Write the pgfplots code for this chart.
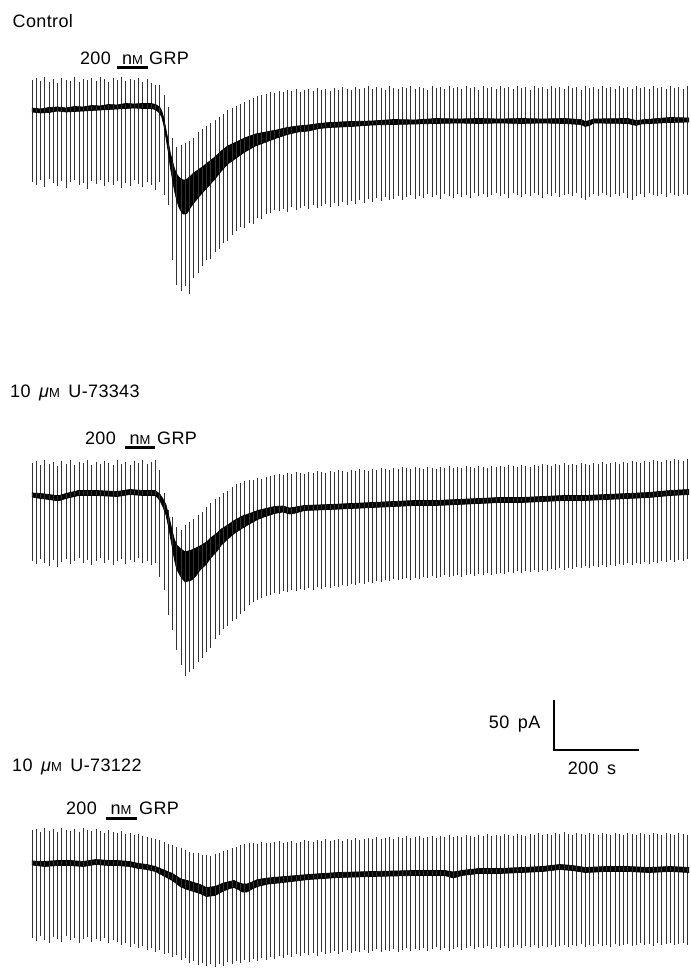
\documentclass[border=0pt]{standalone}
\usepackage{pgfplots}
\pgfplotsset{compat=1.18}
\usepackage{pgfplotstable}
\usepgfplotslibrary{fillbetween}
\usepackage{fontspec}
\setmainfont{Liberation Sans}[LetterSpace=2, WordSpace=1.6]
\newcommand\lab{\fontsize{18}{20}\selectfont}
\newcommand\smc{\fontsize{13}{13}\selectfont}

% spikes: t (s), top, bot (pA, relative to initial holding current)
\pgfplotstableread{
t top bot
0 30 -72
10 32 -75
20 29 -70
30 33 -77
40 28 -69
50 31 -73
60 27 -76
70 32 -71
80 30 -78
90 29 -72
100 33 -70
110 28 -75
120 31 -73
130 30 -79
140 32 -71
150 29 -74
160 33 -70
170 31 -76
180 28 -72
190 32 -75
200 30 -71
210 33 -78
220 29 -73
230 31 -76
240 30 -70
250 32 -74
260 28 -77
270 31 -72
280 27 -75
290 25 -80
300 25 -72
310 15 -85
320 3 -95
330 -28 -150
340 -37 -175
350 -35 -181
360 -33 -176
370 -31 -184
380 -28 -168
390 -22 -163
400 -19 -156
410 -16 -150
420 -13 -149
430 -10 -142
440 -7 -139
450 -4 -133
460 0 -131
470 2 -125
480 4 -121
490 6 -117
500 8 -118
510 10 -113
520 12 -114
530 14 -108
540 15 -109
550 16 -104
560 18 -103
570 17 -100
580 19 -101
590 18 -99
600 20 -102
610 19 -97
620 21 -100
630 18 -98
640 20 -96
650 21 -99
660 19 -95
670 22 -98
680 20 -96
690 21 -94
700 19 -97
710 22 -93
720 20 -96
730 23 -92
740 21 -95
750 20 -91
760 23 -94
770 21 -90
780 22 -93
790 24 -89
800 21 -92
810 23 -88
820 22 -91
830 20 -87
840 24 -90
850 22 -89
860 21 -86
870 23 -90
880 22 -87
890 24 -85
900 21 -89
910 23 -86
920 22 -88
930 20 -84
940 24 -87
950 22 -85
960 23 -89
970 21 -84
980 24 -86
990 22 -88
1000 23 -84
1010 21 -87
1020 24 -85
1030 22 -88
1040 23 -83
1050 20 -86
1060 24 -84
1070 22 -87
1080 23 -85
1090 21 -83
1100 24 -86
1110 22 -84
1120 23 -88
1130 21 -83
1140 24 -85
1150 22 -87
1160 23 -84
1170 20 -86
1180 24 -83
1190 22 -85
1200 23 -88
1210 21 -84
1220 24 -86
1230 22 -83
1240 23 -87
1250 21 -85
1260 24 -84
1270 22 -86
1280 23 -83
1290 20 -88
1300 24 -90
1310 22 -87
1320 23 -84
1330 21 -86
1340 24 -83
1350 22 -85
1360 23 -87
1370 21 -84
1380 24 -86
1390 22 -83
1400 23 -88
1410 21 -90
1420 24 -86
1430 22 -84
1440 23 -87
1450 21 -83
1460 24 -85
1470 22 -86
1480 23 -84
1490 21 -87
1500 24 -83
1510 22 -85
1520 23 -86
1530 21 -84
1540 24 -85
}\spikesA

\pgfplotstableread{
t c h
0 0 2
20 -1 2
40 0 2.5
60 1 2
80 0 2
100 1 2.5
120 1 2
140 2 2.5
160 2 2
180 3 2.5
200 3 2
220 4 2.5
240 4 2
260 4 2.5
280 4 2.5
290 3 2.5
300 0 3
305 -4 3
310 -12 3.5
315 -24 4
320 -36 5
325 -50 7
330 -60 9
335 -70 11
340 -77 13
345 -82 15
350 -85 16
355 -87 17
360 -87 17
365 -86 17
370 -83 16
380 -78 15
390 -74 14
400 -70 13
415 -64 12
430 -58 11
445 -51 10
460 -45 9
480 -40 8
500 -35 7
525 -30 6
550 -27 5
575 -24 4
600 -21 3.5
625 -19 3
650 -18 3
675 -16 2.5
700 -15 2.5
750 -14 2.5
800 -13 2
850 -12 2.5
900 -12 2
950 -11 2.5
1000 -11 2
1050 -11 2.5
1100 -11 2
1150 -11 2.5
1200 -11 2
1250 -11 2.5
1290 -12 2.5
1300 -14 2.5
1310 -13 2.5
1320 -11 2
1400 -11 2.5
1420 -13 2.5
1430 -12 2
1500 -10 2.5
1544 -10 2
}\bandA

\pgfplotstableread{
t top bot
0 32 -66
10 34 -69
20 30 -64
30 35 -68
40 31 -71
50 33 -65
60 29 -72
70 34 -67
80 31 -64
90 35 -69
100 30 -66
110 33 -63
120 32 -68
130 35 -65
140 30 -70
150 33 -66
160 31 -63
170 34 -68
180 32 -65
190 30 -70
200 35 -66
210 31 -64
220 33 -69
230 30 -65
240 34 -67
250 32 -63
260 35 -68
270 31 -66
280 33 -70
290 35 -68
300 25 -82
310 2 -95
320 -15 -120
330 -22 -135
340 -32 -155
350 -35 -170
360 -30 -181
370 -27 -177
380 -24 -174
390 -20 -167
400 -17 -163
410 -12 -157
420 -8 -153
430 -4 -144
440 -2 -140
450 2 -134
460 4 -131
470 8 -126
480 11 -124
490 12 -119
500 14 -116
510 15 -110
520 15 -107
530 17 -105
540 16 -103
550 18 -101
560 19 -100
570 20 -98
580 21 -99
590 20 -96
600 22 -97
610 21 -95
620 23 -96
630 22 -94
640 21 -95
650 23 -93
660 22 -95
670 24 -92
680 23 -94
690 22 -92
700 24 -93
710 23 -91
720 25 -92
730 24 -90
740 23 -91
750 25 -89
760 24 -90
770 26 -88
780 25 -89
790 24 -87
800 26 -88
810 25 -86
820 27 -87
830 26 -85
840 25 -86
850 27 -84
860 26 -85
870 28 -84
880 27 -83
890 26 -85
900 28 -83
910 27 -84
920 26 -82
930 28 -83
940 27 -81
950 26 -83
960 28 -82
970 27 -80
980 29 -82
990 27 -81
1000 28 -80
1010 27 -82
1020 29 -80
1030 28 -79
1040 27 -81
1050 29 -79
1060 28 -80
1070 27 -78
1080 29 -80
1090 28 -79
1100 29 -78
1110 28 -79
1120 30 -77
1130 29 -78
1140 28 -76
1150 30 -78
1160 29 -76
1170 28 -77
1180 30 -75
1190 29 -77
1200 31 -75
1210 30 -76
1220 29 -74
1230 31 -75
1240 30 -73
1250 32 -75
1260 30 -73
1270 31 -74
1280 30 -72
1290 32 -73
1300 31 -71
1310 30 -73
1320 32 -71
1330 31 -72
1340 33 -70
1350 31 -72
1360 32 -70
1370 33 -71
1380 31 -69
1390 33 -70
1400 32 -68
1410 34 -70
1420 33 -68
1430 32 -69
1440 34 -67
1450 33 -69
1460 35 -67
1470 34 -68
1480 33 -66
1490 35 -67
1500 34 -65
1510 36 -67
1520 35 -65
1530 34 -66
1540 36 -64
}\spikesB

\pgfplotstableread{
t c h
0 0 2
20 -1 2.5
40 -2 2.5
55 -3 2.5
65 -3 2.5
80 -1 2.5
110 2 2.5
150 2 2.5
200 1 2.5
230 3 2.5
260 2 2.5
290 2 2.5
300 -2 3
308 -8 4
315 -15 5
322 -28 6
330 -45 8
335 -55 10
340 -62 12
350 -68 14
360 -72 15
375 -70 15
385 -67 14
395 -63 12
410 -58 11
420 -53 10
435 -47 9
445 -42 8
460 -37 7
475 -32 6.5
495 -27 6
515 -23 5
530 -20 4.5
545 -18 4
570 -15 3.5
590 -14 3
605 -16 3
620 -15 3
640 -13 2.5
700 -12 2.5
750 -11 2.5
800 -10 2.5
850 -9 2.5
900 -8 2.5
950 -8 2.5
1000 -7 2.5
1050 -6 2.5
1100 -5 2.5
1150 -5 2.5
1200 -4 2.5
1250 -3 2.5
1300 -3 2.5
1350 -2 2.5
1400 -1 2.5
1450 0 2.5
1500 2 2.5
1544 3 2.5
}\bandB

\pgfplotstableread{
t top bot
0 35 -73
10 36 -76
20 33 -71
30 37 -75
40 34 -78
50 36 -72
60 33 -74
70 37 -77
80 35 -71
90 34 -75
100 36 -73
110 33 -78
120 37 -74
130 35 -72
140 34 -77
150 36 -74
160 34 -76
170 32 -73
180 35 -78
190 33 -75
200 32 -77
210 34 -80
220 31 -78
230 32 -82
240 30 -79
250 31 -83
260 29 -81
270 28 -85
280 27 -83
290 26 -87
300 25 -85
310 23 -89
320 21 -88
330 20 -92
340 18 -90
350 17 -95
360 15 -93
370 13 -98
380 12 -96
390 12 -100
400 10 -98
410 10 -101
420 9 -99
430 11 -102
440 12 -99
450 14 -101
460 15 -97
470 17 -99
480 18 -96
490 20 -98
500 21 -95
510 22 -97
520 22 -94
530 21 -96
540 23 -93
550 22 -95
560 22 -92
570 23 -94
580 24 -91
590 22 -93
600 23 -90
610 24 -92
620 22 -89
630 23 -91
640 25 -88
650 24 -90
660 23 -88
670 25 -91
680 24 -87
690 26 -89
700 24 -88
710 25 -86
720 26 -89
730 24 -87
740 26 -85
750 25 -88
760 27 -86
770 25 -87
780 26 -85
790 27 -88
800 26 -86
810 28 -84
820 26 -87
830 27 -85
840 28 -86
850 26 -84
860 28 -87
870 27 -85
880 29 -83
890 27 -86
900 28 -84
910 29 -85
920 27 -83
930 28 -86
940 29 -84
950 27 -82
960 29 -85
970 28 -83
980 30 -86
990 28 -84
1000 29 -82
1010 28 -85
1020 30 -83
1030 29 -81
1040 28 -84
1050 30 -82
1060 29 -83
1070 31 -81
1080 29 -84
1090 30 -82
1100 29 -83
1110 31 -81
1120 30 -83
1130 29 -82
1140 31 -80
1150 30 -83
1160 29 -81
1170 31 -82
1180 30 -80
1190 32 -83
1200 30 -81
1210 31 -82
1220 30 -80
1230 32 -82
1240 31 -81
1250 33 -80
1260 31 -82
1270 30 -80
1280 32 -81
1290 31 -79
1300 30 -82
1310 32 -80
1320 31 -81
1330 30 -79
1340 32 -81
1350 31 -80
1360 30 -82
1370 32 -79
1380 31 -81
1390 30 -80
1400 32 -79
1410 31 -81
1420 30 -80
1430 32 -78
1440 31 -80
1450 30 -79
1460 32 -81
1470 31 -78
1480 30 -80
1490 32 -79
1500 31 -78
1510 30 -80
1520 32 -79
1530 31 -78
1540 30 -80
}\spikesC

\pgfplotstableread{
t c h
0 2 2
30 1 2.5
60 2 2.5
90 2 2.5
120 1 2.5
150 3 2.5
180 2 2.5
200 2 2.5
230 1 2.5
250 -1 2.5
270 -2 2.5
290 -4 2.5
310 -8 3
330 -12 3.5
350 -18 4
365 -20 4.5
380 -22 4.5
395 -24 4.5
410 -27 4.5
430 -26 4.5
450 -22 4
465 -20 3.5
475 -19 3.5
485 -21 3.5
495 -23 4
505 -23 4
515 -21 3.5
530 -18 3.5
555 -16 3
580 -15 3
650 -12 2.5
720 -10 2.5
800 -9 2.5
900 -8 2.5
970 -8 2.5
990 -10 3
1010 -8 2.5
1050 -6 2.5
1100 -6 2.5
1150 -5 2.5
1200 -4 2.5
1240 -2 2.5
1270 -3 2.5
1300 -5 2.5
1350 -4 2.5
1400 -4 2.5
1450 -5 2.5
1500 -4 2.5
1544 -5 2.5
}\bandC

\begin{document}
\begin{tikzpicture}
\begin{axis}[
  scale only axis, width=689pt, height=968pt,
  xmin=-75.2, xmax=1544, ymin=-968, ymax=0,
  axis lines=none, clip=false,
  spk/.style={black!80, only marks, mark=*, mark size=0pt,
    mark options={draw=none, fill=none},
    error bars/.cd, y dir=plus, y explicit, error mark=none,
    error bar style={line width=0.6pt, black!80}},
  edge/.style={black, line width=0.7pt, mark=none},
]
\path (axis cs:-75.2,-968) rectangle (axis cs:1544,0);

% ---- Control (holding level at y=-110)
\addplot[spk] table[x=t, y expr=\thisrow{bot}-110, y error expr=\thisrow{top}-\thisrow{bot}] {\spikesA};
\addplot[edge, name path=Ahi] table[x=t, y expr=\thisrow{c}+\thisrow{h}-110] {\bandA};
\addplot[edge, name path=Alo] table[x=t, y expr=\thisrow{c}-\thisrow{h}-110] {\bandA};
\addplot[black] fill between[of=Ahi and Alo];

% ---- U-73343 (holding level at y=-495)
\addplot[spk] table[x=t, y expr=\thisrow{bot}-495, y error expr=\thisrow{top}-\thisrow{bot}] {\spikesB};
\addplot[edge, name path=Bhi] table[x=t, y expr=\thisrow{c}+\thisrow{h}-495] {\bandB};
\addplot[edge, name path=Blo] table[x=t, y expr=\thisrow{c}-\thisrow{h}-495] {\bandB};
\addplot[black] fill between[of=Bhi and Blo];

% ---- U-73122 (holding level at y=-865)
\addplot[spk] table[x=t, y expr=\thisrow{bot}-865, y error expr=\thisrow{top}-\thisrow{bot}] {\spikesC};
\addplot[edge, name path=Chi] table[x=t, y expr=\thisrow{c}+\thisrow{h}-865] {\bandC};
\addplot[edge, name path=Clo] table[x=t, y expr=\thisrow{c}-\thisrow{h}-865] {\bandC};
\addplot[black] fill between[of=Chi and Clo];

% ---- GRP application bars
\addplot[black, line width=3pt, mark=none] coordinates {(200,-67.5) (273,-67.5)};
\addplot[black, line width=3pt, mark=none] coordinates {(218.6,-447.5) (289,-447.5)};
\addplot[black, line width=3pt, mark=none] coordinates {(174,-819) (246.7,-819)};

% ---- scale bar: 50 pA, 200 s
\addplot[black, line width=2.8pt, mark=none, line join=miter] coordinates {(1226.7,-700) (1226.7,-750) (1426.7,-750)};

% ---- labels
\node[anchor=base west, inner sep=0, font=\lab] at (axis cs:-45.8,-28) {Control};
\node[anchor=base east, inner sep=0, font=\lab] at (axis cs:185.7,-65) {200};
\node[anchor=base, inner sep=0, font=\lab] at (axis cs:236.5,-65) {n{\smc M}};
\node[anchor=base west, inner sep=0, font=\lab] at (axis cs:275,-65) {GRP};

\node[anchor=base west, inner sep=0, font=\lab] at (axis cs:-51.7,-398) {10 {\itshape μ}{\smc M} U-73343};
\node[anchor=base east, inner sep=0, font=\lab] at (axis cs:197.4,-445) {200};
\node[anchor=base, inner sep=0, font=\lab] at (axis cs:253.8,-445) {n{\smc M}};
\node[anchor=base west, inner sep=0, font=\lab] at (axis cs:293.8,-445) {GRP};

\node[anchor=base west, inner sep=0, font=\lab] at (axis cs:-47,-772) {10 {\itshape μ}{\smc M} U-73122};
\node[anchor=base east, inner sep=0, font=\lab] at (axis cs:152.8,-815) {200};
\node[anchor=base, inner sep=0, font=\lab] at (axis cs:209,-815) {n{\smc M}};
\node[anchor=base west, inner sep=0, font=\lab] at (axis cs:251.5,-815) {GRP};

\node[anchor=base east, inner sep=0, font=\lab] at (axis cs:1195,-729) {50 pA};
\node[anchor=base, inner sep=0, font=\lab] at (axis cs:1316,-775) {200 s};
\end{axis}
\end{tikzpicture}
\end{document}
